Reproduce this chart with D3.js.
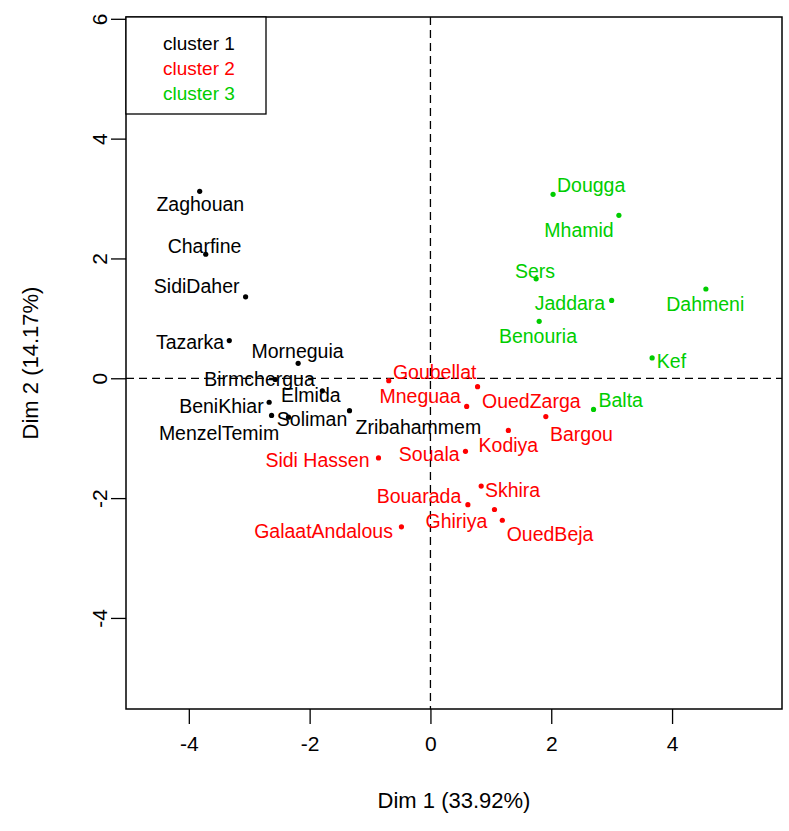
<!DOCTYPE html>
<html>
<head>
<meta charset="utf-8">
<script src="https://cdn.jsdelivr.net/npm/d3@7"></script>
<style>
  html, body { margin: 0; padding: 0; background: #fff; }
  svg { display: block; }
  text { font-family: "Liberation Sans", Arial, sans-serif; }
</style>
</head>
<body>
<svg id="chart" width="789" height="831"></svg>
<script>
// ---- data ----
const names = ["Zaghouan","Charfine","SidiDaher","Tazarka","Morneguia","Birmchergua","Elmida","BeniKhiar","MenzelTemim","Soliman","Zribahammem",
  "Goubellat","Mneguaa","OuedZarga","Kodiya","Bargou","Souala","Sidi Hassen","Bouarada","Skhira","Ghiriya","OuedBeja","GalaatAndalous",
  "Dougga","Mhamid","Sers","Jaddara","Benouria","Dahmeni","Kef","Balta"];
const cluster = [1,1,1,1,1,1,1,1,1,1,1, 2,2,2,2,2,2,2,2,2,2,2,2, 3,3,3,3,3,3,3,3];
const dim1 = [-3.82,-3.72,-3.06,-3.33,-2.19,-2.57,-1.79,-2.67,-2.63,-2.35,-1.34,
  -0.69,0.60,0.78,1.29,1.91,0.58,-0.86,0.62,0.84,1.06,1.19,-0.48,
  2.03,3.12,1.75,3.00,1.80,4.56,3.67,2.70];
const dim2 = [3.12,2.07,1.36,0.63,0.25,-0.02,-0.21,-0.40,-0.62,-0.65,-0.54,
  -0.04,-0.47,-0.14,-0.87,-0.64,-1.22,-1.33,-2.11,-1.80,-2.19,-2.37,-2.48,
  3.07,2.72,1.66,1.30,0.95,1.49,0.34,-0.52];
// label anchor positions (data units, as placed by the original plot)
const labelDim1 = [-3.81,-3.74,-3.87,-3.98,-2.20,-2.83,-1.98,-3.46,-3.50,-1.96,-0.20,
  0.07,-0.17,1.67,1.29,2.50,-0.02,-1.87,-0.19,1.36,0.43,1.98,-1.77,
  2.66,2.46,1.73,2.31,1.78,4.55,3.99,3.15];
const labelDim2 = [2.90,2.21,1.53,0.60,0.45,-0.02,-0.28,-0.47,-0.92,-0.69,-0.81,
  0.10,-0.30,-0.38,-1.11,-0.94,-1.27,-1.37,-1.96,-1.86,-2.38,-2.61,-2.55,
  3.23,2.48,1.78,1.26,0.70,1.23,0.28,-0.37];
const legendLabels = ["cluster 1","cluster 2","cluster 3"];
const clusterColors = ["#000000","#FF0000","#00CD00"];
const xTicks = [-4,-2,0,2,4];
const yTicks = [-4,-2,0,2,4,6];
const xTitle = "Dim 1 (33.92%)";
const yTitle = "Dim 2 (14.17%)";
const xDomain = [-5.04, 5.82];
const yDomain = [-5.52, 6.03];

// ---- layout ----
const svg = d3.select("#chart");
const L = 126, R = 782, T = 17, B = 709;
const x = d3.scaleLinear().domain(xDomain).range([L, R]);
const y = d3.scaleLinear().domain(yDomain).range([B, T]);
const color = d3.scaleOrdinal().domain([1,2,3]).range(clusterColors);
const fmt = d => String(d); // plain hyphen-minus like the original

// dashed reference lines
svg.append("line").attr("x1", x(0)).attr("x2", x(0)).attr("y1", T).attr("y2", B)
  .attr("stroke", "#000").attr("stroke-width", 1.3).attr("stroke-dasharray", "8,5");
svg.append("line").attr("x1", L).attr("x2", R).attr("y1", y(0)).attr("y2", y(0))
  .attr("stroke", "#000").attr("stroke-width", 1.3).attr("stroke-dasharray", "8,5");

// axes
const xAxis = d3.axisBottom(x).tickValues(xTicks).tickSize(15).tickPadding(12).tickFormat(fmt);
const gx = svg.append("g").attr("transform", `translate(0,${B})`).call(xAxis);
gx.select(".domain").remove();
gx.selectAll("line").attr("stroke", "#000").attr("stroke-width", 1.3);
gx.selectAll("text").attr("font-size", 21).attr("fill", "#000").style("font-family", '"Liberation Sans", Arial, sans-serif');

const yAxis = d3.axisLeft(y).tickValues(yTicks).tickSize(15).tickPadding(0).tickFormat(fmt);
const gy = svg.append("g").attr("transform", `translate(${L},0)`).call(yAxis);
gy.select(".domain").remove();
gy.selectAll("line").attr("stroke", "#000").attr("stroke-width", 1.3);
gy.selectAll("text")
  .attr("font-size", 21).attr("fill", "#000")
  .style("font-family", '"Liberation Sans", Arial, sans-serif')
  .attr("x", null).attr("dy", null)
  .attr("text-anchor", "middle")
  .attr("transform", "translate(-19,0) rotate(-90)")
  .attr("y", 0);

// plot box
svg.append("rect").attr("x", L).attr("y", T).attr("width", R - L).attr("height", B - T)
  .attr("fill", "none").attr("stroke", "#000").attr("stroke-width", 1.5);

// axis titles
svg.append("text").attr("x", (L + R) / 2).attr("y", 808).attr("text-anchor", "middle")
  .attr("font-size", 22).text(xTitle);
svg.append("text").attr("transform", `translate(38,${(T + B) / 2}) rotate(-90)`)
  .attr("text-anchor", "middle").attr("font-size", 22).text(yTitle);

// points
const rows = names.map((n, i) => ({ name: n, c: cluster[i], d1: dim1[i], d2: dim2[i], l1: labelDim1[i], l2: labelDim2[i] }));
svg.append("g").selectAll("circle").data(rows).join("circle")
  .attr("cx", d => x(d.d1)).attr("cy", d => y(d.d2)).attr("r", 2.6)
  .attr("fill", d => color(d.c));

// labels
svg.append("g").selectAll("text").data(rows).join("text")
  .attr("x", d => x(d.l1)).attr("y", d => y(d.l2)).attr("dy", "0.35em")
  .attr("text-anchor", "middle").attr("font-size", 19.5)
  .attr("fill", d => color(d.c)).text(d => d.name);

// legend
const lg = svg.append("g");
lg.append("rect").attr("x", L).attr("y", T).attr("width", 140).attr("height", 97)
  .attr("fill", "#fff").attr("stroke", "#000").attr("stroke-width", 1.3);
lg.selectAll("text").data(legendLabels).join("text")
  .attr("x", 163).attr("y", (d, i) => 43 + i * 25).attr("dy", "0.35em")
  .attr("font-size", 19).attr("fill", (d, i) => clusterColors[i]).text(d => d);
</script>
</body>
</html>
